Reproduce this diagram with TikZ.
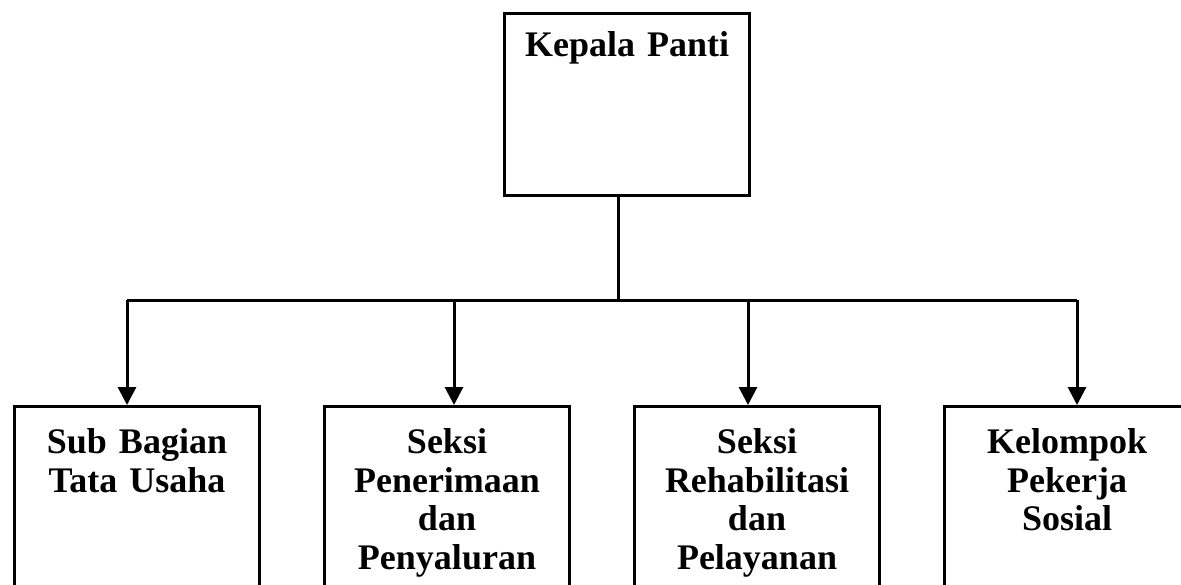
\documentclass[tikz,border=0pt]{standalone}
\usepackage{fontspec}
\setmainfont{Liberation Serif}
\usetikzlibrary{arrows.meta, positioning}

\begin{document}
\begin{tikzpicture}[
    x=0.5pt, y=-0.5pt,
    line width=1.5pt,
    font=\fontsize{18pt}{19.25pt}\selectfont\bfseries,
    headbox/.style={
      draw,
      inner sep=0pt,
      anchor=north west,
      text width=122.5pt,
      align=center,
      text height=21.5pt,
      text depth=69.5pt,
    },
    unitbox/.style={
      draw,
      inner sep=0pt,
      text width=122.5pt,
      align=center,
      text height=23.5pt,
      text depth=75pt,
    },
    drop/.style={-{Triangle[width=9pt,length=9pt]}},
  ]
    \useasboundingbox (0,0) rectangle (1181,584);
    \clip (0,0) rectangle (1181,584);

    \node[headbox] (kepala) at (503,12) {Kepala Panti};

    \node[unitbox, anchor=north west] (tatausaha) at (13,405) {Sub Bagian\\Tata Usaha};
    \node[unitbox, right=31pt of tatausaha] (penerimaan) {Seksi\\Penerimaan\\dan\\Penyaluran};
    \node[unitbox, right=31pt of penerimaan] (rehabilitasi) {Seksi\\Rehabilitasi\\dan\\Pelayanan};
    \node[unitbox, right=31pt of rehabilitasi] (kelompok) {Kelompok\\Pekerja\\Sosial};

    % bus line
    \coordinate (bus) at (618,300);
    \coordinate (d1) at (127,300);
    \coordinate (d2) at (454,300);
    \coordinate (d3) at (748,300);
    \coordinate (d4) at (1077,300);
    \draw (kepala.south -| bus) -- (bus);
    \draw (d1) -- (d4);

    \draw[drop] (d1) -- (d1 |- tatausaha.north);
    \draw[drop] (d2) -- (d2 |- penerimaan.north);
    \draw[drop] (d3) -- (d3 |- rehabilitasi.north);
    \draw[drop] (d4) -- (d4 |- kelompok.north);
\end{tikzpicture}
\end{document}
